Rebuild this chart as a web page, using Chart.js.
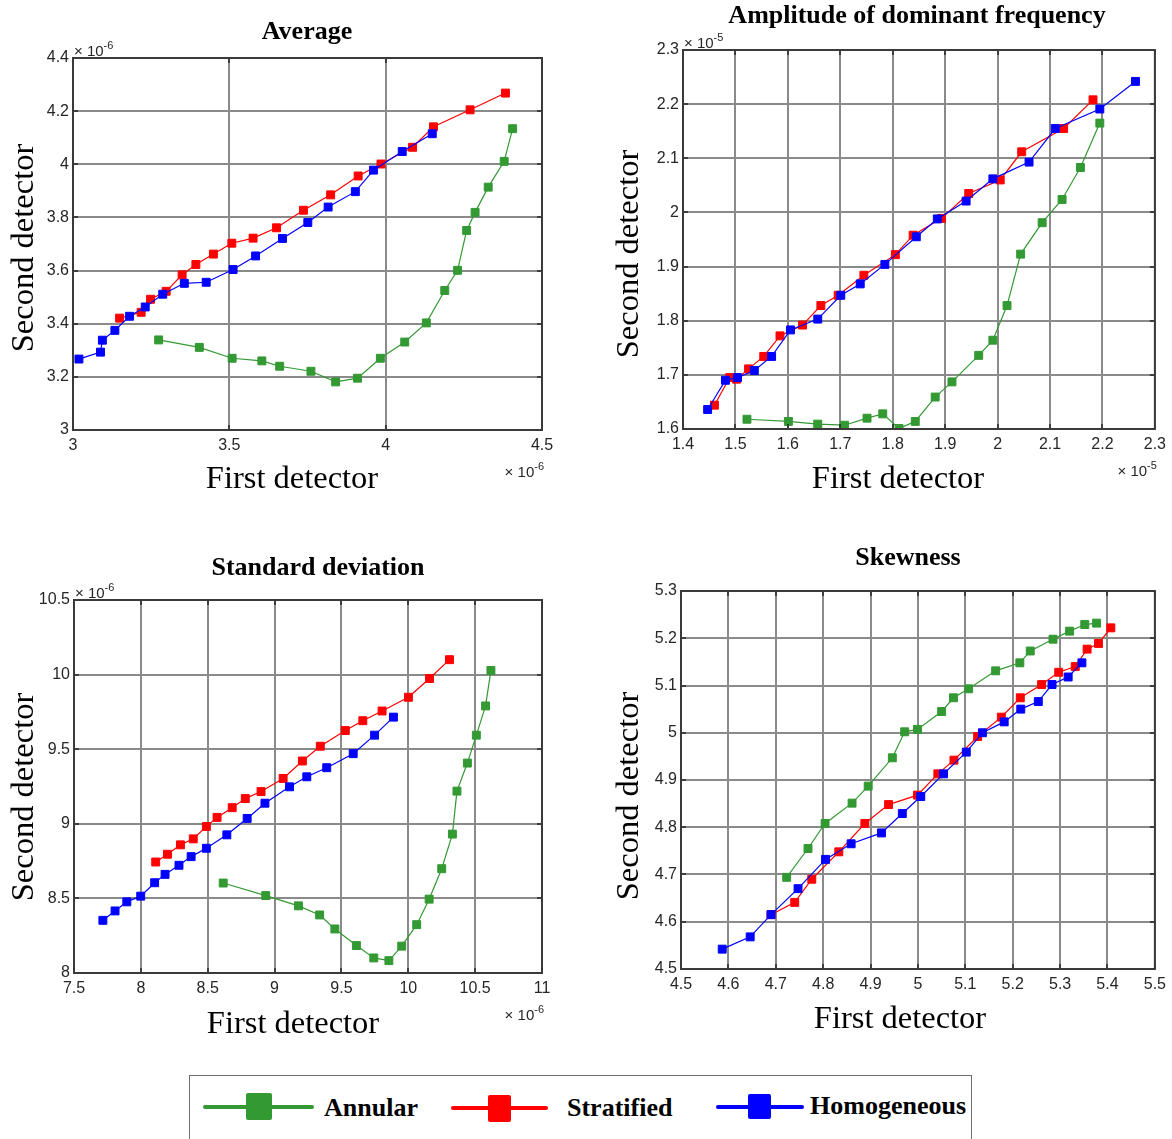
<!DOCTYPE html>
<html>
<head>
<meta charset="utf-8">
<script src="https://cdn.jsdelivr.net/npm/chart.js@4.4.1/dist/chart.umd.min.js"></script>
<style>
  body { margin: 0; background: #fff; width: 1172px; height: 1139px; position: relative; overflow: hidden; }
  canvas { position: absolute; }
  .legend-box { position: absolute; left: 189px; top: 1075px; width: 783px; height: 90px; border: 1.5px solid #6e6e6e; box-sizing: border-box; }
  .lg { position: absolute; border-radius: 2px; }
  .lg-text { position: absolute; font: bold 26px/26px "Liberation Serif", serif; color: #000; white-space: nowrap; }
</style>
</head>
<body>
<canvas id="chart-avg" width="585" height="520" style="left:0;top:0"></canvas>
<canvas id="chart-amp" width="572" height="520" style="left:600px;top:0"></canvas>
<canvas id="chart-std" width="585" height="520" style="left:0;top:540px"></canvas>
<canvas id="chart-skew" width="572" height="520" style="left:600px;top:540px"></canvas>
<div class="legend-box"></div>
<div id="legend"></div>
<script>
// series shared by all four panels
const seriesNames = ['Annular', 'Stratified', 'Homogeneous'];
const seriesColors = ['#339933', '#ff0000', '#0000ff'];

// Average  (values x 10^-6)
const avgXTicks = [3, 3.5, 4, 4.5];
const avgYTicks = [3, 3.2, 3.4, 3.6, 3.8, 4, 4.2, 4.4];
const avgAnnularX = [3.274, 3.404, 3.509, 3.604, 3.661, 3.761, 3.840, 3.910, 3.983, 4.061, 4.130, 4.189, 4.230, 4.259, 4.286, 4.328, 4.379, 4.406];
const avgAnnularY = [3.339, 3.311, 3.270, 3.260, 3.240, 3.221, 3.181, 3.195, 3.270, 3.331, 3.403, 3.525, 3.601, 3.751, 3.819, 3.914, 4.011, 4.134];
const avgStratX = [3.149, 3.218, 3.248, 3.298, 3.349, 3.393, 3.449, 3.508, 3.576, 3.651, 3.737, 3.824, 3.912, 3.985, 4.086, 4.153, 4.270, 4.383];
const avgStratY = [3.421, 3.443, 3.492, 3.522, 3.584, 3.623, 3.662, 3.703, 3.722, 3.761, 3.827, 3.885, 3.956, 4.001, 4.064, 4.141, 4.205, 4.268];
const avgHomoX = [3.019, 3.088, 3.094, 3.134, 3.181, 3.231, 3.287, 3.356, 3.426, 3.512, 3.584, 3.670, 3.751, 3.816, 3.903, 3.961, 4.053, 4.149];
const avgHomoY = [3.267, 3.293, 3.338, 3.375, 3.428, 3.463, 3.511, 3.552, 3.556, 3.604, 3.655, 3.721, 3.781, 3.839, 3.897, 3.978, 4.048, 4.115];

// Amplitude of dominant frequency  (values x 10^-5)
const ampXTicks = [1.4, 1.5, 1.6, 1.7, 1.8, 1.9, 2, 2.1, 2.2, 2.3];
const ampYTicks = [1.6, 1.7, 1.8, 1.9, 2, 2.1, 2.2, 2.3];
const ampAnnularX = [1.522, 1.601, 1.657, 1.708, 1.751, 1.781, 1.812, 1.843, 1.881, 1.913, 1.964, 1.991, 2.018, 2.044, 2.085, 2.123, 2.158, 2.195];
const ampAnnularY = [1.618, 1.614, 1.609, 1.607, 1.620, 1.628, 1.601, 1.614, 1.659, 1.687, 1.736, 1.764, 1.828, 1.923, 1.981, 2.024, 2.083, 2.165];
const ampStratX = [1.460, 1.489, 1.502, 1.525, 1.554, 1.585, 1.628, 1.663, 1.696, 1.745, 1.805, 1.839, 1.893, 1.945, 2.005, 2.046, 2.126, 2.182];
const ampStratY = [1.644, 1.695, 1.692, 1.711, 1.734, 1.772, 1.792, 1.828, 1.847, 1.884, 1.922, 1.958, 1.989, 2.035, 2.060, 2.112, 2.155, 2.208];
const ampHomoX = [1.447, 1.481, 1.504, 1.536, 1.569, 1.605, 1.657, 1.701, 1.738, 1.785, 1.845, 1.885, 1.940, 1.991, 2.060, 2.110, 2.195, 2.263];
const ampHomoY = [1.636, 1.690, 1.695, 1.708, 1.734, 1.783, 1.803, 1.847, 1.868, 1.904, 1.955, 1.988, 2.021, 2.062, 2.093, 2.155, 2.191, 2.242];

// Standard deviation  (values x 10^-6)
const stdXTicks = [7.5, 8, 8.5, 9, 9.5, 10, 10.5, 11];
const stdYTicks = [8, 8.5, 9, 9.5, 10, 10.5];
const stdAnnularX = [8.616, 8.934, 9.179, 9.337, 9.451, 9.612, 9.742, 9.855, 9.951, 10.063, 10.156, 10.250, 10.330, 10.364, 10.442, 10.509, 10.578, 10.618];
const stdAnnularY = [8.603, 8.519, 8.450, 8.389, 8.295, 8.184, 8.101, 8.083, 8.180, 8.324, 8.495, 8.699, 8.931, 9.219, 9.407, 9.594, 9.790, 10.028];
const stdStratX = [8.111, 8.199, 8.296, 8.392, 8.490, 8.570, 8.683, 8.781, 8.899, 9.064, 9.208, 9.342, 9.529, 9.660, 9.804, 10.001, 10.159, 10.308];
const stdStratY = [8.744, 8.796, 8.859, 8.899, 8.982, 9.043, 9.108, 9.169, 9.216, 9.304, 9.421, 9.520, 9.625, 9.691, 9.756, 9.848, 9.974, 10.100];
const stdHomoX = [7.716, 7.807, 7.895, 7.999, 8.103, 8.181, 8.285, 8.376, 8.490, 8.643, 8.795, 8.928, 9.112, 9.241, 9.390, 9.588, 9.748, 9.889];
const stdHomoY = [8.353, 8.416, 8.477, 8.515, 8.605, 8.661, 8.722, 8.780, 8.836, 8.926, 9.036, 9.138, 9.248, 9.315, 9.376, 9.470, 9.594, 9.715];

// Skewness
const skewXTicks = [4.5, 4.6, 4.7, 4.8, 4.9, 5, 5.1, 5.2, 5.3, 5.4, 5.5];
const skewYTicks = [4.5, 4.6, 4.7, 4.8, 4.9, 5, 5.1, 5.2, 5.3];
const skewAnnularX = [4.723, 4.768, 4.804, 4.861, 4.895, 4.946, 4.972, 4.999, 5.050, 5.075, 5.107, 5.164, 5.215, 5.237, 5.285, 5.320, 5.352, 5.377];
const skewAnnularY = [4.694, 4.755, 4.808, 4.851, 4.887, 4.947, 5.002, 5.007, 5.045, 5.074, 5.093, 5.131, 5.148, 5.173, 5.198, 5.215, 5.229, 5.232];
const skewStratX = [4.690, 4.740, 4.776, 4.833, 4.888, 4.938, 4.999, 5.042, 5.076, 5.126, 5.176, 5.216, 5.261, 5.297, 5.332, 5.357, 5.381, 5.407];
const skewStratY = [4.615, 4.641, 4.690, 4.748, 4.808, 4.848, 4.868, 4.913, 4.942, 4.992, 5.033, 5.074, 5.102, 5.128, 5.140, 5.177, 5.189, 5.222];
const skewHomoX = [4.587, 4.646, 4.690, 4.747, 4.805, 4.859, 4.923, 4.967, 5.006, 5.054, 5.102, 5.136, 5.182, 5.217, 5.254, 5.283, 5.317, 5.346];
const skewHomoY = [4.542, 4.568, 4.615, 4.670, 4.732, 4.765, 4.788, 4.829, 4.865, 4.913, 4.959, 5.000, 5.023, 5.050, 5.066, 5.102, 5.118, 5.148];

const INK = '#262626';
const SERIF = '"Liberation Serif", "Times New Roman", serif';
const SANS = '"Liberation Sans", Arial, sans-serif';

// titles, axis labels, box frame, inward ticks and the x10^n multipliers
const decorPlugin = {
  id: 'decor',
  afterDraw(chart, args, o) {
    const { ctx, chartArea: a } = chart;
    const xs = chart.scales.x, ys = chart.scales.y;
    ctx.save();

    ctx.strokeStyle = INK;
    ctx.lineWidth = 1.5;
    ctx.beginPath();
    xs.ticks.forEach(t => {
      const px = Math.round(xs.getPixelForValue(t.value));
      ctx.moveTo(px, a.bottom); ctx.lineTo(px, a.bottom - 5);
      ctx.moveTo(px, a.top); ctx.lineTo(px, a.top + 5);
    });
    ys.ticks.forEach(t => {
      const py = Math.round(ys.getPixelForValue(t.value));
      ctx.moveTo(a.left, py); ctx.lineTo(a.left + 5, py);
      ctx.moveTo(a.right, py); ctx.lineTo(a.right - 5, py);
    });
    ctx.stroke();

    ctx.lineWidth = 2;
    ctx.strokeStyle = '#3a3a3a';
    ctx.strokeRect(a.left, a.top, a.right - a.left, a.bottom - a.top);

    ctx.fillStyle = '#000';
    ctx.textAlign = 'center';
    ctx.textBaseline = 'middle';
    ctx.font = 'bold 26px ' + SERIF;
    ctx.fillText(o.title, o.titlePos[0], o.titlePos[1]);

    ctx.font = '32.5px ' + SERIF;
    ctx.textBaseline = 'alphabetic';
    ctx.fillText('First detector', o.xTitlePos[0], o.xTitlePos[1]);
    ctx.save();
    ctx.translate(o.yTitlePos[0], o.yTitlePos[1]);
    ctx.rotate(-Math.PI / 2);
    ctx.textBaseline = 'middle';
    ctx.fillText('Second detector', 0, 0);
    ctx.restore();

    if (o.exp) {
      const drawExp = (x, y, alignRight) => {
        ctx.font = '15px ' + SANS;
        const base = '\u00d7 10';
        const w1 = ctx.measureText(base).width;
        ctx.font = '11px ' + SANS;
        const w2 = ctx.measureText(o.exp).width;
        const x0 = alignRight ? x - w1 - w2 : x;
        ctx.textAlign = 'left';
        ctx.fillStyle = INK;
        ctx.font = '15px ' + SANS;
        ctx.fillText(base, x0, y);
        ctx.font = '11px ' + SANS;
        ctx.fillText(o.exp, x0 + w1, y - 7);
      };
      drawExp(a.left + 1, a.top - 2, false);
      drawExp(a.right + 2, a.bottom + 47, true);
    }
    ctx.restore();
  }
};

function buildChart(id, p) {
  const toPts = (xs, ys) => xs.map((x, i) => ({ x: x, y: ys[i] }));
  const datasets = p.series.map((s, i) => ({
    label: seriesNames[i],
    data: toPts(s[0], s[1]),
    showLine: true,
    borderColor: seriesColors[i],
    backgroundColor: seriesColors[i],
    borderWidth: 1.2,
    pointStyle: 'rect',
    pointRadius: 5.6,
    pointHoverRadius: 5.6,
    pointBorderWidth: 1,
    order: 2 - i // homogeneous drawn on top
  }));

  const axis = (ticksArr, fit, pad) => ({
    type: 'linear',
    min: ticksArr[0],
    max: ticksArr[ticksArr.length - 1],
    afterBuildTicks: s => { s.ticks = ticksArr.map(v => ({ value: v })); },
    afterFit: fit,
    grid: { color: '#8a8a8a', lineWidth: 2, drawTicks: false },
    border: { display: false },
    ticks: {
      autoSkip: false, maxRotation: 0, padding: pad,
      color: INK, font: { family: SANS, size: 16 },
      callback: v => String(v)
    }
  });

  return new Chart(document.getElementById(id), {
    type: 'scatter',
    data: { datasets },
    options: {
      responsive: false,
      animation: false,
      layout: { padding: { top: p.top, right: p.right, left: 0, bottom: 0 } },
      plugins: { legend: { display: false }, tooltip: { enabled: false }, decor: p.decor },
      scales: {
        x: axis(p.xTicks, s => { s.height = p.xh; }, 6),
        y: axis(p.yTicks, s => { s.width = p.yw; }, 4)
      }
    },
    plugins: [decorPlugin]
  });
}

buildChart('chart-avg', {
  xTicks: avgXTicks, yTicks: avgYTicks,
  series: [[avgAnnularX, avgAnnularY], [avgStratX, avgStratY], [avgHomoX, avgHomoY]],
  top: 58, right: 43, yw: 73, xh: 90,
  decor: { title: 'Average', titlePos: [307, 32], xTitlePos: [292, 488], yTitlePos: [24, 248], exp: '-6' }
});

buildChart('chart-amp', {
  xTicks: ampXTicks, yTicks: ampYTicks,
  series: [[ampAnnularX, ampAnnularY], [ampStratX, ampStratY], [ampHomoX, ampHomoY]],
  top: 50, right: 15, yw: 83, xh: 91,
  decor: { title: 'Amplitude of dominant frequency', titlePos: [317, 16], xTitlePos: [298, 488], yTitlePos: [29, 254], exp: '-5' }
});

buildChart('chart-std', {
  xTicks: stdXTicks, yTicks: stdYTicks,
  series: [[stdAnnularX, stdAnnularY], [stdStratX, stdStratY], [stdHomoX, stdHomoY]],
  top: 60, right: 43, yw: 74, xh: 87,
  decor: { title: 'Standard deviation', titlePos: [318, 28], xTitlePos: [293, 493], yTitlePos: [24, 257], exp: '-6' }
});

buildChart('chart-skew', {
  xTicks: skewXTicks, yTicks: skewYTicks,
  series: [[skewAnnularX, skewAnnularY], [skewStratX, skewStratY], [skewHomoX, skewHomoY]],
  top: 51, right: 15, yw: 81, xh: 91,
  decor: { title: 'Skewness', titlePos: [308, 18], xTitlePos: [300, 488], yTitlePos: [29, 256], exp: null }
});

// shared legend under the panels
const legendSlots = [
  { line: [203, 111, 1105], mark: [246, 26, 1093, 27], text: [324, 1095] },
  { line: [451, 97, 1106], mark: [488, 23, 1095, 27], text: [567, 1095] },
  { line: [716, 88, 1105], mark: [748, 23, 1094, 25], text: [810, 1093] }
];
const legendEl = document.getElementById('legend');
seriesNames.forEach((name, i) => {
  const s = legendSlots[i];
  const line = document.createElement('div');
  line.className = 'lg';
  Object.assign(line.style, { left: s.line[0] + 'px', width: s.line[1] + 'px', top: s.line[2] + 'px', height: '4px', background: seriesColors[i] });
  const mark = document.createElement('div');
  mark.className = 'lg';
  Object.assign(mark.style, { left: s.mark[0] + 'px', width: s.mark[1] + 'px', top: s.mark[2] + 'px', height: s.mark[3] + 'px', background: seriesColors[i] });
  const txt = document.createElement('div');
  txt.className = 'lg-text';
  txt.textContent = name;
  Object.assign(txt.style, { left: s.text[0] + 'px', top: s.text[1] + 'px' });
  legendEl.append(line, mark, txt);
});
</script>
</body>
</html>
